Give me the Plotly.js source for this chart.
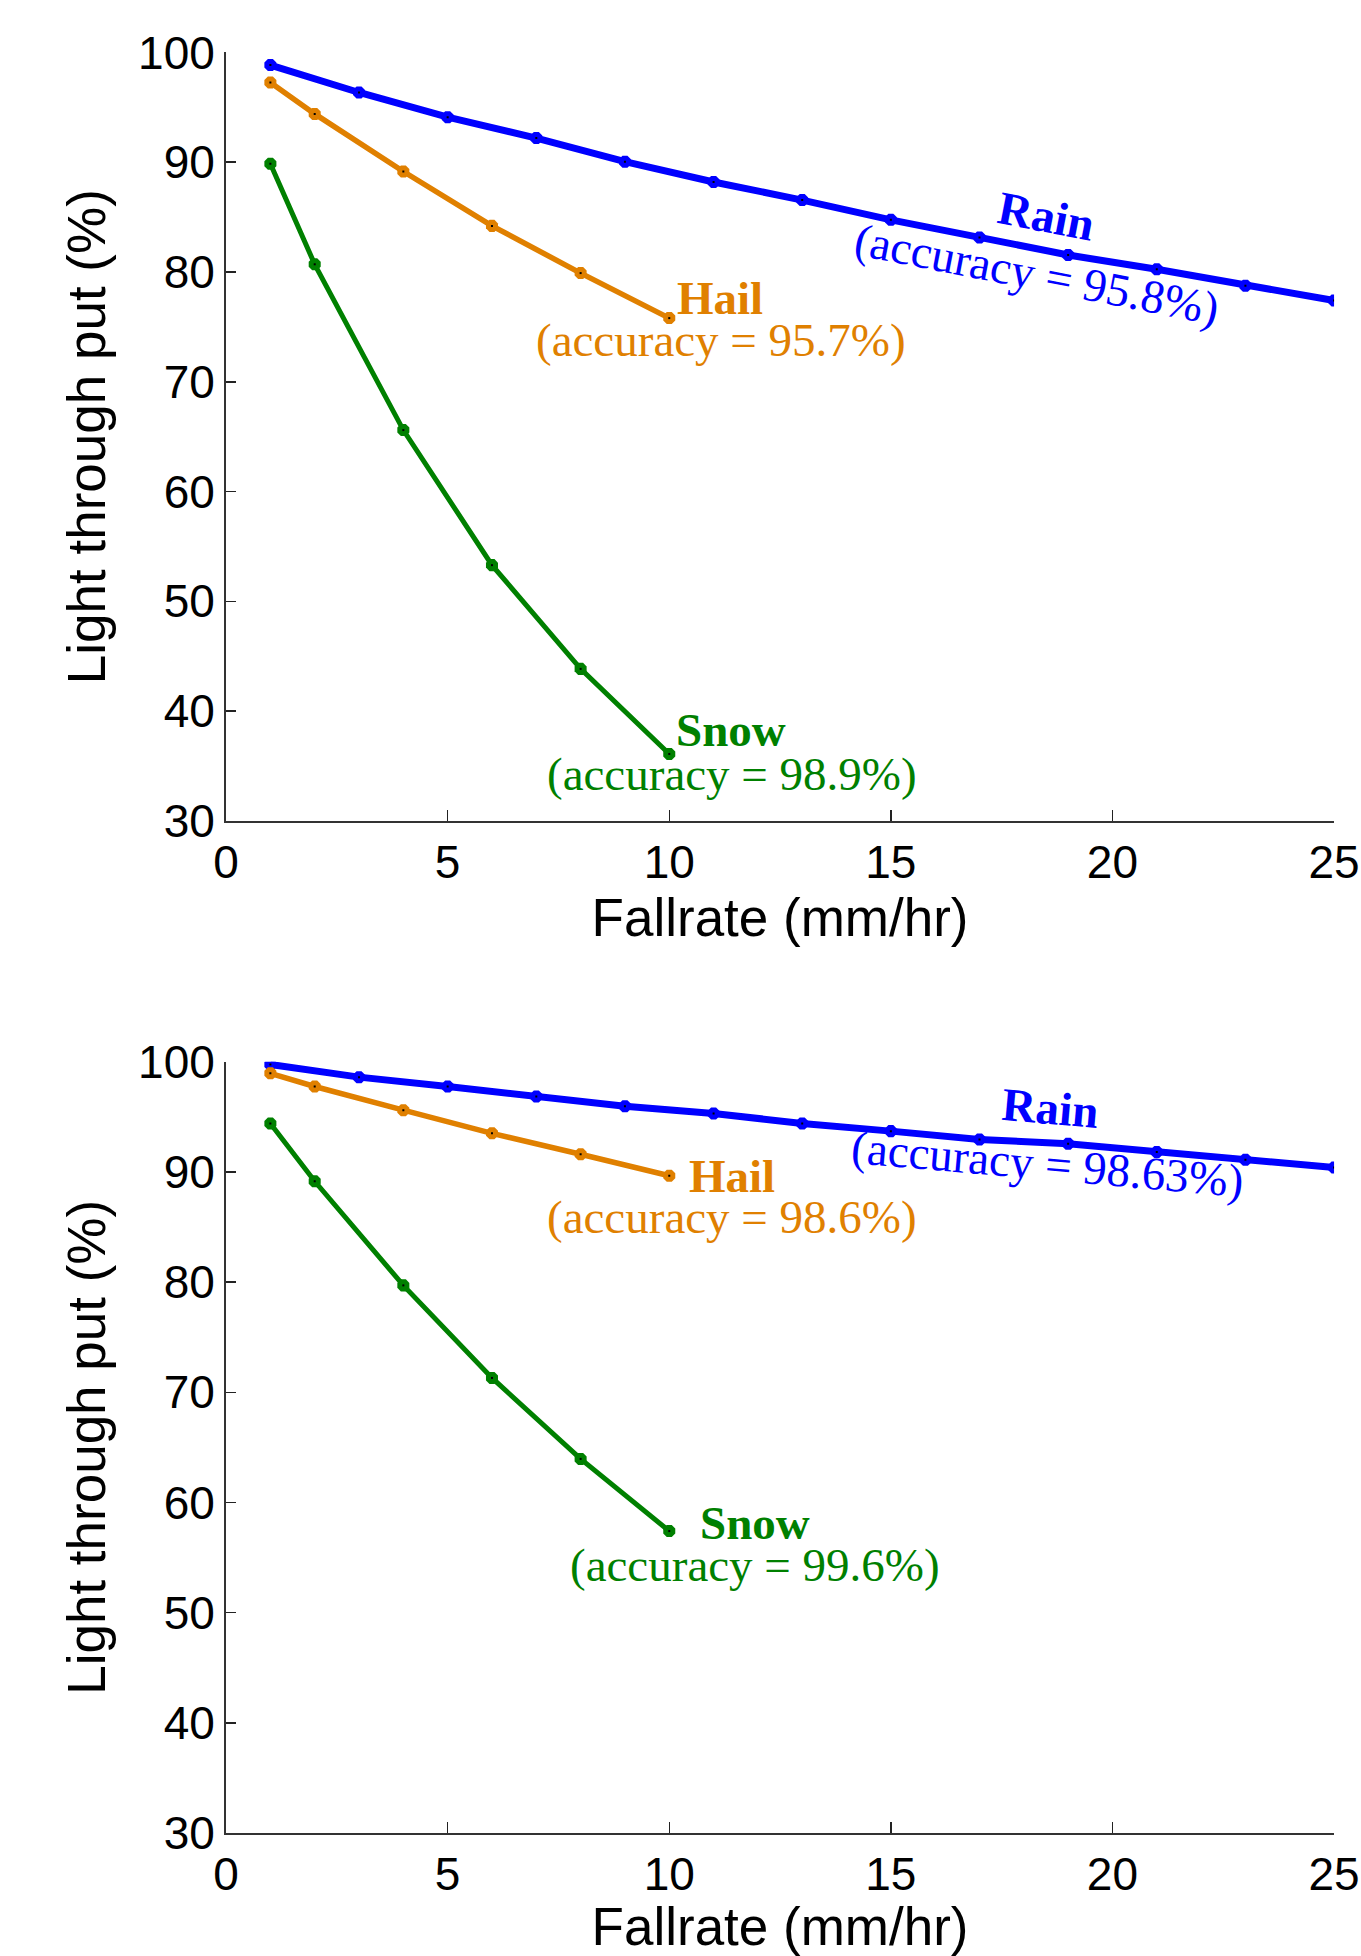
<!DOCTYPE html>
<html>
<head>
<meta charset="utf-8">
<script src="https://cdn.plot.ly/plotly-3.0.1.min.js"></script>
<style>
html, body { margin: 0; padding: 0; background: #fff; }
#chart { width: 1361px; height: 1956px; }
</style>
</head>
<body>
<div id="chart"></div>
<script>
// ---- Data ----
const rainX = [1, 3, 5, 7, 9, 11, 13, 15, 17, 19, 21, 23, 25];
const hailX = [1, 2, 4, 6, 8, 10];
const snowX = [1, 2, 4, 6, 8, 10];

// Top panel
const rainTop = [98.85, 96.35, 94.1, 92.2, 90.05, 88.2, 86.55, 84.75, 83.15, 81.55, 80.25, 78.75, 77.4];
const hailTop = [97.25, 94.4, 89.15, 84.2, 79.9, 75.8];
const snowTop = [89.85, 80.7, 65.6, 53.3, 43.85, 36.1];

// Bottom panel
const rainBot = [99.75, 98.6, 97.75, 96.85, 95.95, 95.3, 94.4, 93.7, 92.95, 92.55, 91.8, 91.1, 90.4];
const hailBot = [98.95, 97.75, 95.6, 93.5, 91.6, 89.65];
const snowBot = [94.4, 89.15, 79.7, 71.3, 63.95, 57.4];

const labelNames = ['Rain', 'Hail', 'Snow'];
const accTop = ['(accuracy = 95.8%)', '(accuracy = 95.7%)', '(accuracy = 98.9%)'];
const accBot = ['(accuracy = 98.63%)', '(accuracy = 98.6%)', '(accuracy = 99.6%)'];

const xTickVals = [0, 5, 10, 15, 20, 25];
const yTickVals = [30, 40, 50, 60, 70, 80, 90, 100];
const xTitle = 'Fallrate (mm/hr)';
const yTitle = 'Light through put (%)';

// ---- Styles ----
const BLUE = '#0000FF', ORANGE = '#E08000', GREEN = '#008000';
const sansFont = 'Liberation Sans, Arial, Helvetica, sans-serif';
const serifFont = 'Liberation Serif, Times New Roman, serif';

function series(x, y, color, width, xa, ya) {
  return [
    { x: x, y: y, xaxis: xa, yaxis: ya, type: 'scatter', mode: 'lines+markers',
      line: { color: color, width: width },
      marker: { symbol: 'octagon', size: 13, color: color, line: { width: 0 } },
      hoverinfo: 'x+y', showlegend: false },
    { x: x, y: y, xaxis: xa, yaxis: ya, type: 'scatter', mode: 'markers',
      marker: { symbol: 'square', size: 2, color: '#000' },
      hoverinfo: 'skip', showlegend: false }
  ];
}

const data = [].concat(
  series(rainX, rainTop, BLUE, 7, 'x', 'y'),
  series(hailX, hailTop, ORANGE, 5.5, 'x', 'y'),
  series(snowX, snowTop, GREEN, 5, 'x', 'y'),
  series(rainX, rainBot, BLUE, 7, 'x2', 'y2'),
  series(hailX, hailBot, ORANGE, 5.5, 'x2', 'y2'),
  series(snowX, snowBot, GREEN, 5, 'x2', 'y2')
);

function xAxis(anchor) {
  return {
    anchor: anchor, domain: [0.1661, 0.9802], range: [0, 25],
    tickmode: 'array', tickvals: xTickVals, ticktext: xTickVals.map(String),
    ticks: 'inside', ticklen: 11, tickwidth: 1.5, tickcolor: '#222',
    showline: true, linecolor: '#333', linewidth: 2,
    showgrid: false, zeroline: false, automargin: false,
    tickfont: { family: sansFont, size: 46, color: '#000' },
    title: { text: xTitle, font: { family: sansFont, size: 53, color: '#000' }, standoff: 6 }
  };
}
function yAxis(anchor, domain) {
  return {
    anchor: anchor, domain: domain, range: [30, 100],
    tickmode: 'array', tickvals: yTickVals, ticktext: yTickVals.map(String),
    ticks: 'inside', ticklen: 10, tickwidth: 1.5, tickcolor: '#222',
    showline: true, linecolor: '#333', linewidth: 2,
    showgrid: false, zeroline: false, automargin: false,
    tickfont: { family: sansFont, size: 46, color: '#000' },
    title: { text: yTitle, font: { family: sansFont, size: 53, color: '#000' }, standoff: 16 }
  };
}

function ann(xref, yref, x, y, text, color, bold, angle) {
  return {
    xref: xref, yref: yref, x: x, y: y, text: bold ? '<b>' + text + '</b>' : text,
    showarrow: false, xanchor: 'center', yanchor: 'middle', textangle: angle || 0,
    borderpad: 0,
    font: { family: serifFont, size: 47, color: color }
  };
}

const annotations = [
  ann('x', 'y', 18.51, 85.1, labelNames[0], BLUE, true, 11),
  ann('x', 'y', 18.30, 79.8, accTop[0], BLUE, false, 11),
  ann('x', 'y', 11.15, 77.6, labelNames[1], ORANGE, true, 0),
  ann('x', 'y', 11.16, 73.8, accTop[1], ORANGE, false, 0),
  ann('x', 'y', 11.40, 38.3, labelNames[2], GREEN, true, 0),
  ann('x', 'y', 11.41, 34.3, accTop[2], GREEN, false, 0),

  ann('x2', 'y2', 18.61, 95.8, labelNames[0], BLUE, true, 5),
  ann('x2', 'y2', 18.54, 90.7, accBot[0], BLUE, false, 5),
  ann('x2', 'y2', 11.41, 89.6, labelNames[1], ORANGE, true, 0),
  ann('x2', 'y2', 11.42, 85.9, accBot[1], ORANGE, false, 0),
  ann('x2', 'y2', 11.94, 58.15, labelNames[2], GREEN, true, 0),
  ann('x2', 'y2', 11.94, 54.3, accBot[2], GREEN, false, 0)
];

const layout = {
  width: 1361, height: 1956,
  margin: { l: 0, r: 0, t: 0, b: 0 },
  paper_bgcolor: '#fff', plot_bgcolor: '#fff',
  showlegend: false,
  xaxis: xAxis('y'),
  yaxis: yAxis('x', [0.5803, 0.9732]),
  xaxis2: xAxis('y2'),
  yaxis2: yAxis('x2', [0.0629, 0.4572]),
  annotations: annotations
};

Plotly.newPlot('chart', data, layout, { displayModeBar: false, staticPlot: true });
</script>
</body>
</html>
